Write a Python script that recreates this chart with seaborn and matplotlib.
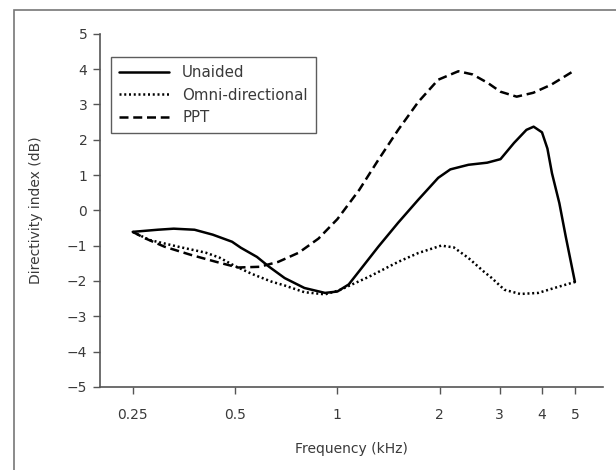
import numpy as np
import pandas as pd
import matplotlib
matplotlib.use("Agg")
import matplotlib.pyplot as plt
import seaborn as sns
from matplotlib.patches import Rectangle

# values (frequency in kHz, directivity index in dB)
unaided_f = [0.25, 0.296, 0.33, 0.38, 0.43, 0.49, 0.52, 0.58, 0.63, 0.70, 0.80,
             0.92, 1.00, 1.08, 1.16, 1.32, 1.51, 1.73, 1.98, 2.15, 2.43, 2.76,
             3.02, 3.31, 3.60, 3.78, 4.00, 4.15, 4.28, 4.50, 4.70, 5.0]
unaided_di = [-0.61, -0.55, -0.52, -0.55, -0.69, -0.89, -1.06, -1.32, -1.60, -1.92, -2.20,
              -2.34, -2.30, -2.10, -1.72, -1.03, -0.35, 0.30, 0.92, 1.16, 1.29, 1.35,
              1.45, 1.91, 2.28, 2.37, 2.21, 1.75, 1.05, 0.20, -0.75, -2.03]

omni_f = [0.25, 0.28, 0.34, 0.41, 0.45, 0.50, 0.56, 0.64, 0.70, 0.80, 0.92,
          1.01, 1.24, 1.51, 1.73, 2.02, 2.20, 2.43, 2.70, 2.84, 3.10, 3.45,
          3.90, 4.35, 5.0]
omni_di = [-0.61, -0.84, -1.03, -1.20, -1.34, -1.58, -1.80, -2.02, -2.13, -2.32, -2.38,
           -2.27, -1.88, -1.46, -1.21, -1.00, -1.05, -1.35, -1.74, -1.91, -2.25, -2.37,
           -2.34, -2.20, -2.03]

ppt_f = [0.25, 0.27, 0.31, 0.37, 0.44, 0.51, 0.59, 0.67, 0.77, 0.88, 1.00,
         1.16, 1.32, 1.51, 1.73, 1.98, 2.27, 2.50, 2.77, 3.02, 3.37, 3.77,
         4.26, 5.0]
ppt_di = [-0.61, -0.78, -1.03, -1.26, -1.46, -1.62, -1.60, -1.46, -1.20, -0.80, -0.25,
          0.58, 1.43, 2.28, 3.07, 3.70, 3.94, 3.85, 3.61, 3.36, 3.22, 3.33,
          3.56, 3.97]

series_names = ["Unaided", "Omni-directional", "PPT"]
x_ticks = [0.25, 0.5, 1, 2, 3, 4, 5]
x_tick_labels = ["0.25", "0.5", "1", "2", "3", "4", "5"]
y_ticks = list(range(-5, 6))

df = pd.concat([
    pd.DataFrame({"freq": unaided_f, "di": unaided_di, "series": series_names[0]}),
    pd.DataFrame({"freq": omni_f, "di": omni_di, "series": series_names[1]}),
    pd.DataFrame({"freq": ppt_f, "di": ppt_di, "series": series_names[2]}),
], ignore_index=True)

sns.set_style("white")
plt.rcParams['font.family'] = ['DejaVu Sans']
text_col = "#3a3a3a"
axis_col = "#555555"

fig = plt.figure(figsize=(6.16, 4.70), dpi=100)
ax = fig.add_axes([0.162, 0.177, 0.817, 0.751])

sns.lineplot(
    data=df, x="freq", y="di", style="series", hue="series",
    palette={s: "black" for s in series_names},
    dashes={"Unaided": "", "Omni-directional": (0.8, 1.1), "PPT": (3.6, 1.9)},
    estimator=None, sort=False, linewidth=1.8, ax=ax,
)

ax.set_xscale("log")
ax.set_xlim(0.2, 6.05)
ax.set_ylim(-5, 5)
ax.set_xticks(x_ticks)
ax.set_xticklabels(x_tick_labels)
ax.xaxis.set_minor_locator(matplotlib.ticker.NullLocator())
ax.set_yticks(y_ticks)
ax.set_yticklabels([str(v).replace("-", "\u2212") for v in y_ticks])

for side in ["top", "right"]:
    ax.spines[side].set_visible(False)
for side in ["left", "bottom"]:
    ax.spines[side].set_color(axis_col)
    ax.spines[side].set_linewidth(1.2)

ax.tick_params(axis="both", direction="out", length=5, width=1.0, color=axis_col,
               labelsize=10, labelcolor=text_col, bottom=True, left=True)
ax.tick_params(axis="x", pad=10)
ax.tick_params(axis="y", pad=4)

ax.set_xlabel("Frequency (kHz)", fontsize=10, color=text_col, labelpad=15)
ax.set_ylabel("Directivity index (dB)", fontsize=10, color=text_col, labelpad=17)

leg = ax.legend(loc="upper left", bbox_to_anchor=(0.022, 0.935), borderaxespad=0,
                frameon=True, fancybox=False, edgecolor="#333333", handlelength=3.3,
                fontsize=10.8, borderpad=0.55, labelspacing=0.5, handletextpad=0.9)
leg.get_frame().set_linewidth(1.0)
for t in leg.get_texts():
    t.set_color(text_col)

# outer frame around the figure panel
fig.patches.append(Rectangle((14 / 616, -0.1), 1.2, 1 - 10 / 470 + 0.1,
                             transform=fig.transFigure, fill=False,
                             edgecolor="#777777", linewidth=1.2, zorder=0))

fig.savefig("out.png", dpi=100)
